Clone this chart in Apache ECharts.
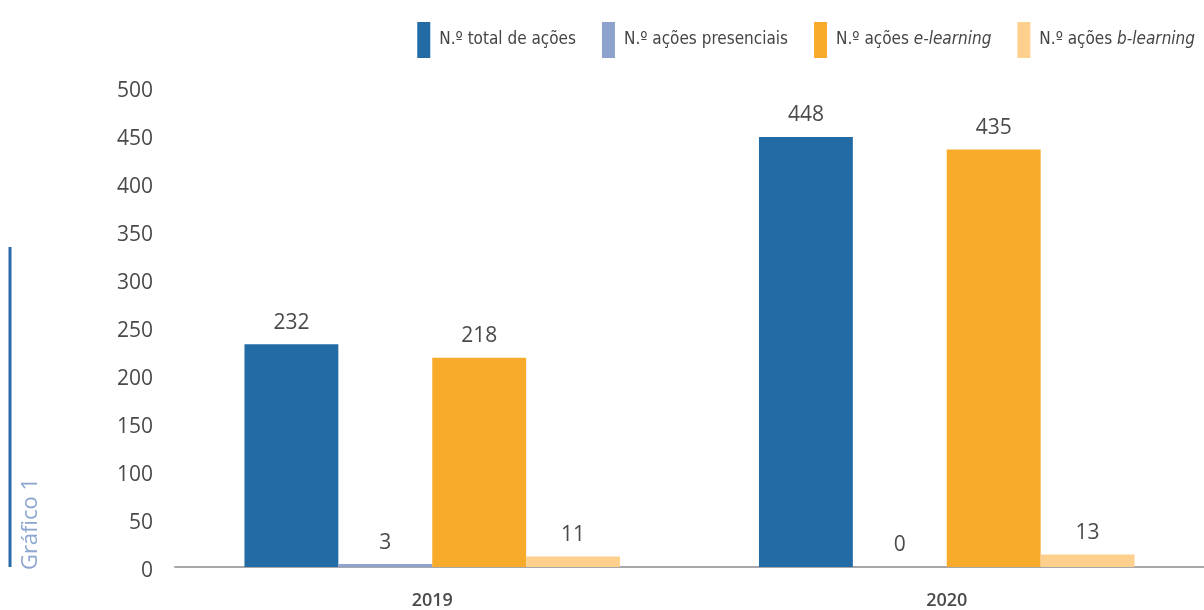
<!DOCTYPE html>
<html>
<head>
<meta charset="utf-8">
<script src="https://cdn.jsdelivr.net/npm/echarts@6/dist/echarts.min.js"></script>
<style>
html,body{margin:0;padding:0;background:#fff;}
#chart{width:1204px;height:610px;}
</style>
</head>
<body>
<div id="chart"></div>
<script>
const categories = ['2019', '2020'];
const seriesNames = ['N.º total de ações', 'N.º ações presenciais', 'N.º ações e-learning', 'N.º ações b-learning'];
const totalAcoes = [232, 448];
const presenciais = [3, 0];
const eLearning = [218, 435];
const bLearning = [11, 13];
const yTicks = [0, 50, 100, 150, 200, 250, 300, 350, 400, 450, 500];
const colors = ['#226ba5', '#8da3cd', '#f8aa2b', '#fdd08e'];

const seriesData = [totalAcoes, presenciais, eLearning, bLearning];
const numFont = '"Open Sans", "Noto Sans", sans-serif';
const legFont = '"DejaVu Sans Condensed", "Liberation Sans Narrow", sans-serif';

const chart = echarts.init(document.getElementById('chart'), null, {renderer: 'canvas'});
chart.setOption({
  animation: false,
  backgroundColor: '#ffffff',
  color: colors,
  grid: {left: 175, right: 0, top: 87, bottom: 43, containLabel: false},
  legend: {
    top: 17,
    right: 4,
    icon: 'rect',
    itemWidth: 13,
    itemHeight: 36,
    itemGap: 26,
    data: seriesNames,
    formatter: function (name) {
      const m = name.match(/^(.*?)([eb]-learning)$/);
      if (m) return '{n|' + m[1] + '}{i|' + m[2] + '}';
      return '{n|' + name + '}';
    },
    textStyle: {
      padding: [0, 0, 0, 4],
      rich: {
        n: {fontFamily: legFont, fontSize: 17, color: '#454545'},
        i: {fontFamily: legFont, fontSize: 17, color: '#454545', fontStyle: 'italic'}
      }
    }
  },
  xAxis: {
    type: 'category',
    data: categories,
    axisLine: {show: true, lineStyle: {color: '#a7a7ab', width: 2}},
    axisTick: {show: false},
    axisLabel: {margin: 25, fontFamily: numFont, fontSize: 18, fontWeight: 600, color: '#4a4a4a'}
  },
  yAxis: {
    type: 'value',
    min: yTicks[0],
    max: yTicks[yTicks.length - 1],
    interval: yTicks[1] - yTicks[0],
    axisLine: {show: false},
    axisTick: {show: false},
    splitLine: {show: false},
    axisLabel: {margin: 22, verticalAlign: 'top', lineHeight: 8, fontFamily: numFont, fontSize: 21, fontWeight: 500, color: '#4a4a4a'}
  },
  series: seriesNames.map(function (name, i) {
    return {
      name: name,
      type: 'bar',
      data: seriesData[i],
      barGap: '0%',
      barCategoryGap: '27%',
      itemStyle: {color: colors[i]},
      label: {
        show: true,
        position: 'top',
        distance: 11,
        fontFamily: numFont,
        fontSize: 21,
        fontWeight: 500,
        color: '#4a4a4a'
      }
    };
  }),
  graphic: [
    {type: 'line', shape: {x1: 10, y1: 247, x2: 10, y2: 567}, style: {stroke: '#2a6aa8', lineWidth: 3}},
    {type: 'text', x: 31, y: 524, rotation: Math.PI / 2,
     style: {text: 'Gráfico 1', fill: '#8ca6cf', font: '500 22px "Open Sans", "Noto Sans", sans-serif', align: 'center', verticalAlign: 'middle'}}
  ]
});
</script>
</body>
</html>
